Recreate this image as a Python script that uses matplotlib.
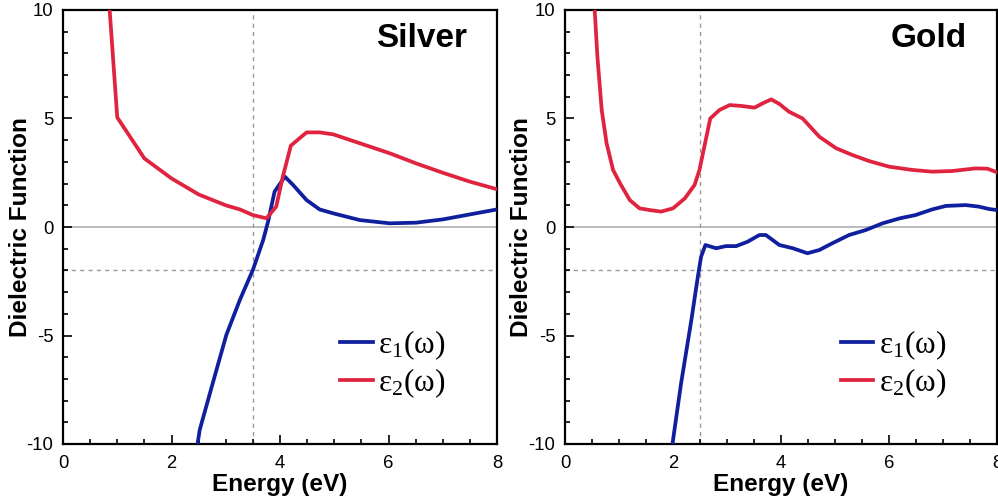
import matplotlib
matplotlib.use("Agg")
import matplotlib.pyplot as plt
from matplotlib.ticker import MultipleLocator

plt.rcParams['font.family'] = ['Liberation Sans', 'DejaVu Sans']
plt.rcParams['axes.unicode_minus'] = False

# Silver dielectric function
ag_e2_x = [0.80, 0.86, 1.00, 1.50, 2.00, 2.50, 3.00, 3.26, 3.50, 3.75, 3.93, 4.05,
           4.20, 4.49, 4.73, 4.98, 5.47, 6.02, 6.51, 7.00, 7.50, 8.00]
ag_e2_y = [11.5, 10.0, 5.05, 3.16, 2.24, 1.50, 1.00, 0.81, 0.55, 0.40, 0.94, 2.30,
           3.75, 4.36, 4.36, 4.27, 3.86, 3.40, 2.93, 2.50, 2.09, 1.74]
ag_e1_x = [2.30, 2.48, 2.52, 2.76, 3.01, 3.26, 3.50, 3.69, 3.78, 3.90, 4.09, 4.24,
           4.49, 4.73, 4.98, 5.47, 6.02, 6.51, 7.00, 7.50, 8.00]
ag_e1_y = [-12.0, -10.0, -9.35, -7.20, -4.98, -3.36, -1.98, -0.60, 0.25, 1.63, 2.32, 1.94,
           1.24, 0.81, 0.63, 0.32, 0.17, 0.20, 0.35, 0.58, 0.81]

# Gold dielectric function
au_e2_x = [0.52, 0.55, 0.60, 0.68, 0.77, 0.89, 1.02, 1.20, 1.38, 1.57, 1.78, 2.00,
           2.22, 2.40, 2.49, 2.58, 2.69, 2.86, 3.05, 3.26, 3.51, 3.66, 3.82, 3.97,
           4.15, 4.40, 4.71, 5.02, 5.32, 5.63, 6.00, 6.43, 6.80, 7.17, 7.60, 7.82, 8.00]
au_e2_y = [11.5, 10.0, 7.85, 5.39, 3.86, 2.63, 2.01, 1.24, 0.86, 0.78, 0.71, 0.86,
           1.32, 1.94, 2.63, 3.70, 5.00, 5.39, 5.62, 5.58, 5.50, 5.70, 5.88, 5.67,
           5.31, 5.00, 4.16, 3.63, 3.32, 3.04, 2.78, 2.63, 2.55, 2.58, 2.70, 2.69, 2.52]
au_e1_x = [1.90, 1.99, 2.15, 2.34, 2.46, 2.52, 2.60, 2.80, 2.98, 3.17, 3.38, 3.60,
           3.72, 3.97, 4.22, 4.49, 4.71, 4.95, 5.26, 5.57, 5.88, 6.20, 6.49, 6.80,
           7.05, 7.42, 7.66, 7.85, 8.00]
au_e1_y = [-11.5, -10.0, -7.20, -4.29, -2.29, -1.37, -0.83, -0.98, -0.88, -0.88, -0.68, -0.37,
           -0.37, -0.83, -0.98, -1.21, -1.06, -0.75, -0.37, -0.14, 0.17, 0.40, 0.55, 0.81,
           0.97, 1.01, 0.94, 0.83, 0.78]

panels = [
    dict(name="Silver", e1=(ag_e1_x, ag_e1_y), e2=(ag_e2_x, ag_e2_y), vline=3.5,
         rect=[63/998, 59/503, 434/998, 434/503], ylab_x=-0.0715),
    dict(name="Gold", e1=(au_e1_x, au_e1_y), e2=(au_e2_x, au_e2_y), vline=2.5,
         rect=[565/998, 59/503, 432/998, 434/503], ylab_x=-0.074),
]

BLUE = "#0f1f9e"
RED = "#e0233f"
GRAY = "#9a9a9a"

fig = plt.figure(figsize=(9.98, 5.03), dpi=100)

for p in panels:
    ax = fig.add_axes(p["rect"])
    ax.axhline(0, color="#b5b5b5", lw=1.3, zorder=1)
    ax.axhline(-2, color=GRAY, lw=1.0, ls=(0, (3, 3)), zorder=1)
    ax.axvline(p["vline"], color=GRAY, lw=1.0, ls=(0, (3, 3)), zorder=1)
    l1, = ax.plot(*p["e1"], color=BLUE, lw=2.7, solid_joinstyle="round", zorder=3)
    l2, = ax.plot(*p["e2"], color=RED, lw=2.7, solid_joinstyle="round", zorder=3)
    ax.set_xlim(0, 8)
    ax.set_ylim(-10, 10)
    ax.xaxis.set_major_locator(MultipleLocator(2))
    ax.xaxis.set_minor_locator(MultipleLocator(0.5))
    ax.yaxis.set_major_locator(MultipleLocator(5))
    ax.yaxis.set_minor_locator(MultipleLocator(1))
    ax.tick_params(which="both", direction="in", top=False, right=False,
                   width=1.2, labelsize=13.3, colors="black")
    ax.tick_params(which="major", length=6.5)
    ax.tick_params(which="minor", length=3.5)
    ax.tick_params(axis="y", pad=7)
    ax.tick_params(axis="x", pad=8)
    for s in ax.spines.values():
        s.set_linewidth(1.6)
    ax.set_xlabel("Energy (eV)", fontsize=17.6, fontweight="bold", labelpad=1)
    ax.set_ylabel("Dielectric Function", fontsize=17.6, fontweight="bold")
    ax.yaxis.set_label_coords(p["ylab_x"], 0.5)
    ax.text(0.93, 0.935, p["name"], transform=ax.transAxes, ha="right", va="center",
            fontsize=24, fontweight="bold")
    ax.legend([l1, l2], [r"$\mathregular{ε_1(ω)}$", r"$\mathregular{ε_2(ω)}$"],
              loc="center left", bbox_to_anchor=(0.638, 0.184), frameon=False,
              prop={"family": "Liberation Serif", "size": 22.5},
              handlelength=1.05, handletextpad=0.18, labelspacing=0.15,
              borderpad=0, borderaxespad=0)

fig.savefig("out.png", dpi=100)
